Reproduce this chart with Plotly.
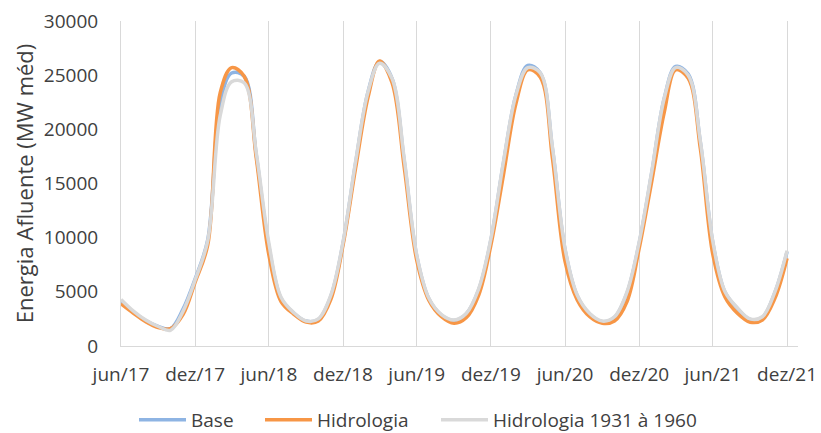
import pandas as pd
import plotly.graph_objects as go

# Monthly affluent energy, jun/2017 .. dez/2021 (MW médio)
months = pd.date_range("2017-06-01", "2021-12-01", freq="MS")

base = [4100, 3150, 2350, 1800, 1600, 3400, 6200, 9800, 22500, 25200, 24900, 17600,
        9200, 4400, 3050, 2300, 2450, 4600, 9500, 16900, 23500, 26250, 24700, 17100,
        8300, 4350, 2850, 2350, 2950, 5200, 9800, 16900, 23200, 25900, 25200, 18200,
        8900, 4650, 2950, 2250, 2650, 4900, 9500, 16000, 22900, 25800, 25100, 18800,
        9500, 4950, 3450, 2450, 2650, 4950, 8700]

hidrologia = [3900, 3050, 2250, 1700, 1600, 2900, 5900, 9300, 23400, 25700, 24900, 17300,
              8400, 4100, 2950, 2200, 2300, 4300, 9300, 16400, 23000, 26300, 24300, 16500,
              7900, 4200, 2700, 2100, 2600, 4700, 9300, 15800, 22400, 25500, 24800, 17300,
              7800, 4250, 2700, 2100, 2300, 4100, 9000, 15200, 21600, 25500, 24700, 18200,
              8400, 4500, 3000, 2200, 2400, 4400, 8100]

hidrologia_1931_1960 = [4300, 3250, 2400, 1800, 1450, 3200, 6100, 9700, 21300, 24400, 24300, 17800,
                        9500, 4500, 3100, 2300, 2500, 4700, 9600, 17000, 23500, 26100, 24700, 17300,
                        8400, 4400, 2900, 2400, 3000, 5300, 9900, 17000, 23200, 25700, 25200, 18300,
                        9000, 4700, 3000, 2300, 2700, 5000, 9600, 16100, 22900, 25700, 25000, 18900,
                        9600, 5000, 3500, 2500, 2700, 5000, 8800]

tick_dates = ["2017-06-01", "2017-12-01", "2018-06-01", "2018-12-01", "2019-06-01",
              "2019-12-01", "2020-06-01", "2020-12-01", "2021-06-01", "2021-12-01"]
tick_labels = ["jun/17", "dez/17", "jun/18", "dez/18", "jun/19",
               "dez/19", "jun/20", "dez/20", "jun/21", "dez/21"]

FONT = "Open Sans"
TEXT = "#404040"
GRID = "#D9D9D9"

fig = go.Figure()
series = [
    ("Base", base, "#8EB4E3", "legend"),
    ("Hidrologia", hidrologia, "#F79646", "legend2"),
    ("Hidrologia 1931 à 1960", hidrologia_1931_1960, "#D9D9D9", "legend3"),
]
for name, vals, color, leg in series:
    fig.add_trace(go.Scatter(
        x=months, y=vals, name=name, mode="lines",
        line=dict(color=color, width=3.5, shape="spline", smoothing=1),
        legend=leg,
    ))

# legends sit in container coordinates so they don't push the plot margins
legend_common = dict(orientation="h", xref="container", yref="container",
                     yanchor="middle", y=0.030, xanchor="left", itemwidth=47,
                     font=dict(family=FONT, size=19, color=TEXT),
                     bgcolor="rgba(0,0,0,0)")

fig.update_layout(
    width=821, height=433,
    margin=dict(l=121, r=23, t=21, b=87),
    paper_bgcolor="white", plot_bgcolor="white",
    font=dict(family=FONT, size=19, color=TEXT),
    showlegend=True,
    legend=dict(x=134 / 821, **legend_common),
    legend2=dict(x=260 / 821, **legend_common),
    legend3=dict(x=436 / 821, **legend_common),
    xaxis=dict(
        type="date", range=["2017-06-01", "2021-12-28"],
        tickvals=tick_dates, ticktext=tick_labels,
        showgrid=True, gridcolor=GRID, gridwidth=1,
        showline=True, linecolor=GRID, linewidth=1,
        ticks="", ticklabelstandoff=11,
        tickfont=dict(family=FONT, size=19, color=TEXT),
        zeroline=False, automargin=False,
    ),
    yaxis=dict(
        range=[0, 30000], dtick=5000, tick0=0, tickformat="d",
        showgrid=False, zeroline=False,
        showline=True, linecolor=GRID, linewidth=1,
        ticks="", ticklabelstandoff=18,
        tickfont=dict(family=FONT, size=19, color=TEXT),
        title=dict(text="Energia Afluente (MW méd)",
                   font=dict(family=FONT, size=22, color=TEXT), standoff=4),
        automargin=False,
    ),
)

fig.write_html("out.html")
